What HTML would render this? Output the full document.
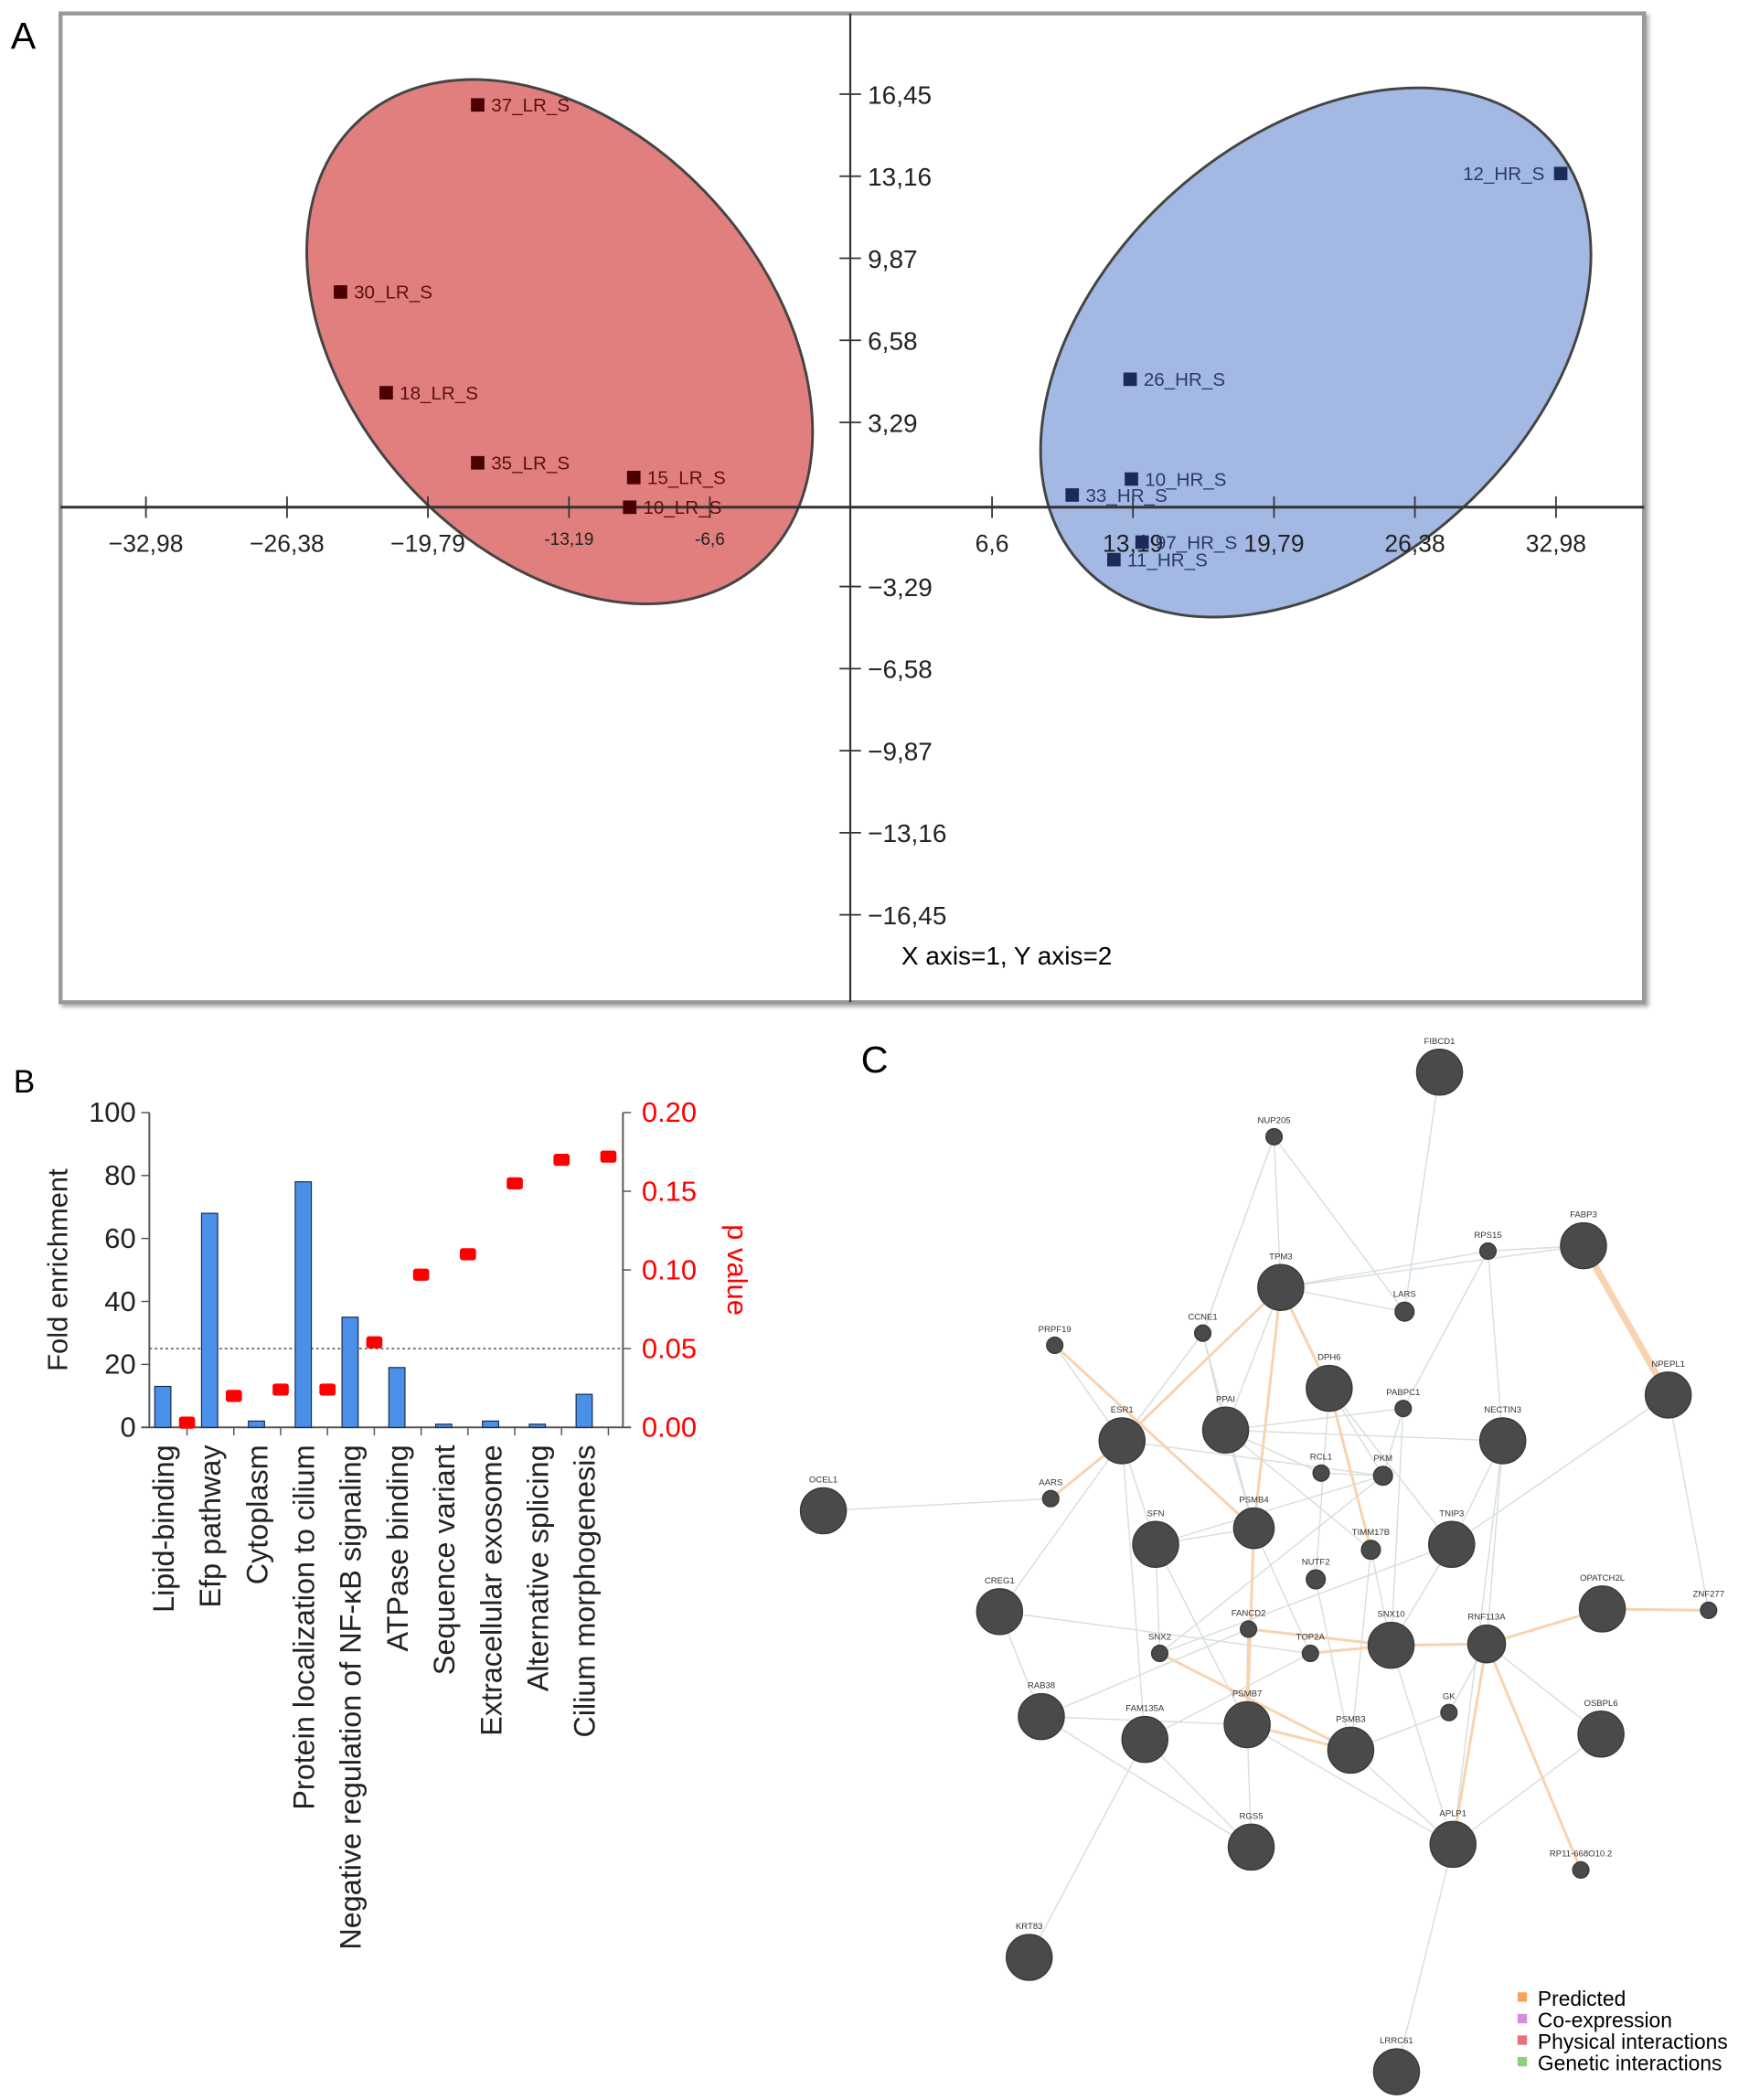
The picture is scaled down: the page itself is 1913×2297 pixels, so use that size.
<!DOCTYPE html>
<html><head><meta charset="utf-8"><style>
html,body{margin:0;padding:0;background:#fff;width:1913px;height:2297px;overflow:hidden}
svg{display:block;font-family:"Liberation Sans",Arial,sans-serif}
</style></head><body>
<svg id="fig" width="1913" height="2297" viewBox="0 0 1300 1561" xmlns="http://www.w3.org/2000/svg">
<defs>
<filter id="sh" x="-5%" y="-5%" width="110%" height="110%"><feDropShadow dx="2" dy="2" stdDeviation="1.5" flood-color="#777" flood-opacity="0.6"/></filter>
</defs>
<g id="panelA">
<text x="8" y="36" font-size="28">A</text>
<rect x="45" y="10" width="1177" height="735" fill="#fff" stroke="#999" stroke-width="3" filter="url(#sh)"/>
<g id="ellipses"></g>
<line x1="45" y1="377" x2="1222" y2="377" stroke="#333" stroke-width="2"/>
<line x1="632" y1="10" x2="632" y2="745" stroke="#333" stroke-width="1.5"/>
<g id="aTicks"></g>
<g id="aPoints"></g>
<text x="670" y="717" font-size="19">X axis=1, Y axis=2</text>
</g>
<g id="panelB">
<text x="10" y="812" font-size="24">B</text>
<g id="bChart"></g>
</g>
<g id="panelC">
<text x="640" y="797" font-size="28">C</text>
<g id="edges"></g><g id="nodes"></g>
<g>
<rect x="1128" y="1481" width="7" height="7" fill="#f7a35c"/>
<text x="1143" y="1491" font-size="15.5">Predicted</text>
<rect x="1128" y="1497" width="7" height="7" fill="#d98be0"/>
<text x="1143" y="1507" font-size="15.5">Co-expression</text>
<rect x="1128" y="1513" width="7" height="7" fill="#e8707a"/>
<text x="1143" y="1523" font-size="15.5">Physical interactions</text>
<rect x="1128" y="1529" width="7" height="7" fill="#8fcf7c"/>
<text x="1143" y="1539" font-size="15.5">Genetic interactions</text>
</g>
</g>
</svg>
<script>
const NS="http://www.w3.org/2000/svg";
function mk(tag,attrs,parent,text){const e=document.createElementNS(NS,tag);for(const k in attrs)e.setAttribute(k,attrs[k]);if(text!==undefined)e.textContent=text;parent.appendChild(e);return e;}

// ---------- Panel A data ----------
const pcaLabels=["37_LR_S","30_LR_S","18_LR_S","35_LR_S","15_LR_S","10_LR_S","12_HR_S","26_HR_S","10_HR_S","33_HR_S","97_HR_S","11_HR_S"];
const pcaX=[-17.46,-23.88,-21.74,-17.46,-10.16,-10.35,33.2,13.06,13.12,10.35,13.62,12.3];
const pcaY=[16.02,8.52,4.48,1.67,1.08,-0.11,13.27,5.02,1.02,0.38,-1.51,-2.21];
const pcaGroup=["LR","LR","LR","LR","LR","LR","HR","HR","HR","HR","HR","HR"];
const xTickVals=[-32.98,-26.38,-19.79,-13.19,-6.6,6.6,13.19,19.79,26.38,32.98];
const xTickLabels=["−32,98","−26,38","−19,79","-13,19","-6,6","6,6","13,19","19,79","26,38","32,98"];
const yTickVals=[16.45,13.16,9.87,6.58,3.29,-3.29,-6.58,-9.87,-13.16,-16.45];
const yTickLabels=["16,45","13,16","9,87","6,58","3,29","−3,29","−6,58","−9,87","−13,16","−16,45"];
const ax=v=>632.5+v*15.89, ay=v=>375-v*18.54;

const ell=document.getElementById('ellipses');
let e1=mk('ellipse',{cx:416,cy:254,rx:222,ry:155,transform:'rotate(48 416 254)',fill:'#e07f7e',stroke:'#444','stroke-width':2},ell);


let e2=mk('ellipse',{cx:978,cy:262,rx:235,ry:159,transform:'rotate(-42 978 262)',fill:'#a3b9e4',stroke:'#444','stroke-width':2},ell);



const at=document.getElementById('aTicks');
xTickVals.forEach((v,i)=>{
  const x=ax(v);
  let t=mk('line',{x1:x,y1:369,x2:x,y2:385,stroke:'#333','stroke-width':1.2},at);
  
  
  const small=Math.abs(v)<14&&v<0;
  let l=mk('text',{x:x,y:small?405:410,'font-size':small?13:18,'text-anchor':'middle',fill:'#222'},at,xTickLabels[i]);
  
  
});
yTickVals.forEach((v,i)=>{
  const y=ay(v);
  let t=mk('line',{x1:624,y1:y,x2:640,y2:y,stroke:'#333','stroke-width':1.2},at);
  
  
  let l=mk('text',{x:645,y:y+7,'font-size':19,fill:'#222'},at,yTickLabels[i]);
  
  
});
const ap=document.getElementById('aPoints');
pcaX.forEach((v,i)=>{
  const x=ax(v),y=ay(pcaY[i]);
  const c=pcaGroup[i]==="LR"?"#4a0000":"#1c2b55";
  let r=mk('rect',{x:x-5,y:y-5,width:10,height:10,fill:c},ap);
  
  
  const right=pcaLabels[i]!=="12_HR_S";
  let l=mk('text',{x:right?x+10:x-12,y:y+5,'font-size':14,fill:pcaGroup[i]==="LR"?"#5a1010":"#2a3a66",'text-anchor':right?'start':'end'},ap,pcaLabels[i]);
  
  
});

// ---------- Panel B data ----------
const cats=["Lipid-binding","Efp pathway","Cytoplasm","Protein localization to cilium","Negative regulation of NF-κB signaling","ATPase binding","Sequence variant","Extracellular exosome","Alternative splicing","Cilium morphogenesis"];
const foldVals=[13,68,2,78,35,19,1,2,1,10.5];
const pVals=[0.003,0.02,0.024,0.024,0.054,0.097,0.11,0.155,0.17,0.172];
const leftTicks=[0,20,40,60,80,100];
const rightTicks=["0.00","0.05","0.10","0.15","0.20"];
const bL=111,bR=463,b0=1061,b100=827;
const by=v=>b0-(b0-b100)*v/100, py=v=>b0-(b0-b100)*v/0.2;
const bx=i=>bL+10+i*34.8;
const bc=document.getElementById('bChart');
let la=mk('line',{x1:bL,y1:b100,x2:bL,y2:b0,stroke:'#555','stroke-width':1.3},bc);
let ra=mk('line',{x1:bR,y1:b100,x2:bR,y2:b0,stroke:'#555','stroke-width':1.3},bc);
let ba=mk('line',{x1:bL-6,y1:b0,x2:bR+6,y2:b0,stroke:'#555','stroke-width':1.3},bc);
let dl=mk('line',{x1:bL,y1:py(0.05),x2:bR,y2:py(0.05),stroke:'#555','stroke-width':1,'stroke-dasharray':'2,2'},bc);
leftTicks.forEach(v=>{
  let t=mk('line',{x1:bL-6,y1:by(v),x2:bL,y2:by(v),stroke:'#555'},bc);
  let l=mk('text',{x:bL-10,y:by(v)+7,'font-size':21,'text-anchor':'end',fill:'#222'},bc,String(v));
});
rightTicks.forEach(s=>{
  const v=parseFloat(s);
  let t=mk('line',{x1:bR,y1:py(v),x2:bR+6,y2:py(v),stroke:'#555'},bc);
  let l=mk('text',{x:bR+14,y:py(v)+7,'font-size':21,fill:'#f00'},bc,s);
});
let yl=mk('text',{x:0,y:0,'font-size':21,'text-anchor':'middle',transform:`translate(50 ${(b0+b100)/2}) rotate(-90)`,fill:'#222'},bc,'Fold enrichment');
let yr=mk('text',{x:0,y:0,'font-size':21,'text-anchor':'middle',transform:`translate(541 944) rotate(90)`,fill:'#f00'},bc,'p value');
cats.forEach((c,i)=>{
  const x=bx(i);
  let b=mk('rect',{x:x-6,y:by(foldVals[i]),width:12,height:b0-by(foldVals[i]),fill:'#4a90e8',stroke:'#1a2a4a','stroke-width':0.8},bc);
  
  
  let p=mk('rect',{x:x+18-6,y:py(pVals[i])-4.5,width:12,height:9,rx:2,fill:'#f00'},bc);
  
  
  let t=mk('line',{x1:x+18,y1:b0,x2:x+18,y2:b0+6,stroke:'#555'},bc);
  let l=mk('text',{x:0,y:0,'font-size':22,'text-anchor':'end',transform:`translate(${x+8} ${b0+13}) rotate(-90)`,fill:'#222'},bc,c);
  
  
});

// ---------- Panel C ----------
const nodeNames=["FIBCD1","NUP205","RPS15","FABP3","TPM3","LARS","CCNE1","PRPF19","NPEPL1","DPH6","PABPC1","ESR1","PPAI","NECTIN3","RCL1","PKM","AARS","OCEL1","PSMB4","SFN","TIMM17B","TNIP3","NUTF2","CREG1","OPATCH2L","ZNF277","FANCD2","SNX10","RNF113A","SNX2","TOP2A","RAB38","GK","FAM135A","PSMB7","PSMB3","OSBPL6","RGS5","APLP1","RP11-668O10.2","KRT83","LRRC61"];
const nodeX=[1070,947,1106,1177,952,1044,894,784,1240,988,1043,834,911,1117,982,1028,781,612,932,859,1019,1079,978,743,1191,1270,928,1034,1105,862,974,774,1077,851,927,1004,1190,930,1080,1175,765,1038];
const nodeY=[797,845,930,926,957,975,991,1000,1037,1032,1047,1071,1063,1071,1095,1097,1114,1123,1136,1148,1152,1148,1174,1198,1196,1197,1211,1223,1222,1229,1229,1276,1273,1293,1282,1301,1289,1373,1371,1390,1455,1540];
const nodeR=[17,6,6,17,17,7,6,6,17,17,6,17,17,17,6,7,6,17,15,17,7,17,7,17,17,6,6,17,14,6,6,17,6,17,17,17,17,17,17,6,17,17];
const greyEdges=[[0,5],[1,4],[1,6],[1,5],[2,3],[2,13],[2,10],[3,8],[4,9],[4,12],[4,5],[4,11],[6,11],[6,12],[7,11],[11,16],[16,17],[11,19],[11,23],[11,33],[12,18],[12,14],[9,15],[9,21],[10,15],[10,27],[13,21],[13,38],[8,21],[8,25],[18,19],[18,30],[19,34],[20,27],[20,35],[22,35],[21,27],[23,31],[31,34],[31,37],[33,37],[33,40],[34,37],[35,38],[38,41],[28,36],[28,32],[32,35],[27,38],[24,28],[19,29],[12,20],[14,15],[15,29],[3,2],[9,22],[4,3],[12,10],[12,13],[11,15],[19,15],[23,30],[26,31],[33,30],[34,38],[36,38],[21,29],[13,28],[6,18],[4,2]];
const orangeEdges=[[3,8],[7,18],[4,18],[11,4],[16,11],[18,34],[26,34],[29,35],[34,35],[26,27],[30,27],[27,28],[28,24],[24,25],[28,38],[28,39],[4,9],[9,20]];
const eg=document.getElementById('edges');
greyEdges.forEach(([a,b])=>{
  let l=mk('line',{x1:nodeX[a],y1:nodeY[a],x2:nodeX[b],y2:nodeY[b],stroke:'#d6e0dd','stroke-width':1},eg);
  
  
});
orangeEdges.forEach(([a,b])=>{
  let l=mk('line',{x1:nodeX[a],y1:nodeY[a],x2:nodeX[b],y2:nodeY[b],stroke:'#f7d3b0','stroke-width':(a===3&&b===8)?5:2},eg);
  
  
});
const ng=document.getElementById('nodes');
nodeNames.forEach((n,i)=>{
  let c=mk('circle',{cx:nodeX[i],cy:nodeY[i],r:nodeR[i],fill:'#4a4a4a',stroke:'#3a3a3a','stroke-width':1},ng);
  
  
  let t=mk('text',{x:nodeX[i],y:nodeY[i]-nodeR[i]-4,'font-size':6.5,'text-anchor':'middle',fill:'#333'},ng,n);
  
  
});
</script>
</body></html>
